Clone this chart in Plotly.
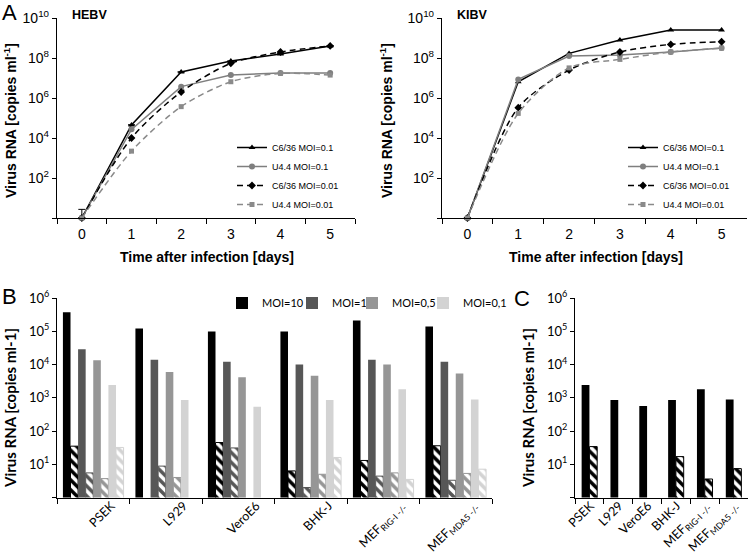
import plotly.graph_objects as go

W, H = 750, 553

# ---- panel A: growth curves (virus RNA copies/ml) ----
days = ["0", "1", "2", "3", "4", "5"]
curve_names = ["C6/36 MOI=0.1", "U4.4 MOI=0.1", "C6/36 MOI=0.01", "U4.4 MOI=0.01"]

hebv_c636_moi01 = [1, 4.5e4, 2.0e7, 7.0e7, 1.6e8, 4.0e8]
hebv_u44_moi01 = [1, 2.7e4, 3.7e6, 1.4e7, 1.8e7, 1.8e7]
hebv_c636_moi001 = [1, 1.0e4, 2.0e6, 5.4e7, 2.0e8, 4.0e8]
hebv_u44_moi001 = [1, 2.2e3, 3.7e5, 6.5e6, 1.7e7, 1.4e7]
hebv_err_up = [1.7, 0, 0, 0, 0, 0]

kibv_c636_moi01 = [1, 6.5e6, 1.7e8, 8.0e8, 2.5e9, 2.5e9]
kibv_u44_moi01 = [1, 8.5e6, 1.26e8, 1.4e8, 2.0e8, 3.2e8]
kibv_c636_moi001 = [1, 3.3e5, 2.5e7, 2.0e8, 4.8e8, 6.5e8]
kibv_u44_moi001 = [1, 1.7e5, 3.2e7, 8.5e7, 2.0e8, 3.1e8]

a_tickvals = [1, 1e2, 1e4, 1e6, 1e8, 1e10]
a_ticktext = ["", "10<sup>2</sup>", "10<sup>4</sup>", "10<sup>6</sup>",
              "10<sup>8</sup>", "10<sup>10</sup>"]

# ---- panels B and C: cell lines ----
cell_lines = ["PSEK", "L929", "VeroE6", "BHK-J",
              "MEF<sub>RIG-I -/-</sub>", "MEF<sub>MDA5 -/-</sub>"]
moi_names = ["MOI=10", "MOI=1", "MOI=0,5", "MOI=0,1"]

b_moi10 = [3.7e5, 1.2e5, 9.8e4, 9.8e4, 2.1e5, 1.4e5]
b_moi10_hatch = [35, None, 45, 6.3, 13, 36]
b_moi1 = [2.9e4, 1.4e4, 1.2e4, 1.0e4, 1.4e4, 1.2e4]
b_moi1_hatch = [5.5, 8.8, 31, 2.0, 4.4, 3.3]
b_moi05 = [1.35e4, 6.0e3, 4.1e3, 4.6e3, 1.0e4, 5.4e3]
b_moi05_hatch = [3.7, 4.0, None, 5.0, 5.5, 5.3]
b_moi01 = [2.4e3, 850, 540, 850, 1.8e3, 890]
b_moi01_hatch = [32, None, None, 16, 3.5, 7.1]

c_solid = [2.4e3, 860, 560, 860, 1.8e3, 890]
c_hatch = [34, None, None, 17, 3.6, 7.4]

bc_tickvals = [1, 1e1, 1e2, 1e3, 1e4, 1e5, 1e6]
bc_ticktext = ["", "10<sup>1</sup>", "10<sup>2</sup>", "10<sup>3</sup>",
               "10<sup>4</sup>", "10<sup>5</sup>", "10<sup>6</sup>"]

ARIAL = "Liberation Sans, Arial, sans-serif"
CALI = "Lato, Open Sans, sans-serif"


def px(x):
    return x / W


def py(y):
    return 1 - y / H


curve_colors = ["black", "#7f7f7f", "black", "#8a8a8a"]
curve_dash = ["solid", "solid", "6px,4px", "6px,4px"]
curve_symbols = ["triangle-up", "circle", "diamond", "square"]
curve_sizes = [6, 6, 6, 5]

bar_colors = ["#000000", "#575757", "#969696", "#d3d3d3"]

fig = go.Figure()


def add_curves(series, xa, ya, legend, err=None):
    for i, y in enumerate(series):
        dashed = curve_dash[i] != "solid"
        tr = go.Scatter(
            x=days, y=y, name=curve_names[i], mode="lines+markers",
            xaxis=xa, yaxis=ya, legend=legend, cliponaxis=False,
            line=dict(color=curve_colors[i], width=1.5, dash=curve_dash[i],
                      shape="spline" if dashed else "linear", smoothing=0.8),
            marker=dict(symbol=curve_symbols[i], size=curve_sizes[i],
                        color=curve_colors[i]),
        )
        if err is not None and i == 0:
            tr.error_y = dict(type="data", array=err, arrayminus=[0] * len(err),
                              symmetric=False, color="black", thickness=1, width=3.5)
        fig.add_trace(tr)


add_curves([hebv_c636_moi01, hebv_u44_moi01, hebv_c636_moi001, hebv_u44_moi001],
           "x", "y", "legend", err=hebv_err_up)
add_curves([kibv_c636_moi01, kibv_u44_moi01, kibv_c636_moi001, kibv_u44_moi001],
           "x2", "y2", "legend2")

# panel B: solid / hatched pairs per MOI, each MOI with its own legend box
b_series = [(b_moi10, b_moi10_hatch), (b_moi1, b_moi1_hatch),
            (b_moi05, b_moi05_hatch), (b_moi01, b_moi01_hatch)]
bw = 0.1046
for i, (solid, hatch) in enumerate(b_series):
    col = bar_colors[i]
    fig.add_trace(go.Bar(
        x=cell_lines, y=solid, name=moi_names[i], xaxis="x3", yaxis="y3",
        legend="legend%d" % (3 + i), width=bw, offset=-4 * bw + 2 * i * bw,
        marker=dict(color=col, line=dict(width=0)),
    ))
    fig.add_trace(go.Bar(
        x=cell_lines, y=hatch, name=moi_names[i] + " hatched", xaxis="x3",
        yaxis="y3", showlegend=False, width=bw, offset=-4 * bw + (2 * i + 1) * bw,
        marker=dict(color=col, line=dict(color=col, width=1),
                    pattern=dict(shape="\\", fillmode="replace", fgcolor=col,
                                 bgcolor="white", size=7, solidity=0.5)),
    ))

# panel C
cw = 0.27
fig.add_trace(go.Bar(
    x=cell_lines, y=c_solid, name="C solid", xaxis="x4", yaxis="y4",
    showlegend=False, width=cw, offset=-cw, marker=dict(color="black", line=dict(width=0)),
))
fig.add_trace(go.Bar(
    x=cell_lines, y=c_hatch, name="C hatched", xaxis="x4", yaxis="y4",
    showlegend=False, width=cw, offset=0,
    marker=dict(color="black", line=dict(color="black", width=1),
                pattern=dict(shape="\\", fillmode="replace", fgcolor="black",
                             bgcolor="white", size=7, solidity=0.5)),
))


# axes
def xcat(domain, anchor, font, angle=0, standoff=0, shift=0):
    return dict(domain=domain, anchor=anchor, type="category", tickson="boundaries",
                range=[-0.5, 5.5], ticks="outside", ticklen=5, tickcolor="black",
                showline=True, linecolor="black", linewidth=1.3, showgrid=False,
                zeroline=False, tickangle=angle, tickfont=font, automargin=False,
                ticklabelstandoff=standoff, ticklabelshift=shift)


def ylog(domain, anchor, rng, vals, text, font):
    return dict(domain=domain, anchor=anchor, type="log", range=rng, tickvals=vals,
                ticktext=text, ticks="outside", ticklen=4, tickcolor="black",
                showline=True, linecolor="black", linewidth=1.3, showgrid=False,
                zeroline=False, tickfont=font, automargin=False)


a_font = dict(family=ARIAL, size=14, color="black")
b_font = dict(family=CALI, size=13, color="black")
bx_font = dict(family=CALI, size=12.5, color="black")

yA = [py(218), py(18)]
yB = [py(497.5), py(298)]


def leg(x, y, font, yanchor="top"):
    return dict(x=px(x), y=py(y), xanchor="left", yanchor=yanchor, font=font,
                bgcolor="rgba(0,0,0,0)", itemwidth=30)


a_leg_font = dict(family=ARIAL, size=9, color="black")
b_leg_font = dict(family=CALI, size=11, color="black")

fig.update_layout(
    width=W, height=H, margin=dict(l=0, r=0, t=0, b=0),
    paper_bgcolor="white", plot_bgcolor="white", barmode="overlay",
    xaxis=xcat([px(57), px(355)], "y", a_font, standoff=3),
    yaxis=ylog(yA, "x", [0, 10], a_tickvals, a_ticktext, a_font),
    xaxis2=xcat([px(442), px(747)], "y2", a_font, standoff=3),
    yaxis2=ylog(yA, "x2", [0, 10], a_tickvals, a_ticktext, a_font),
    xaxis3=xcat([px(57), px(492)], "y3", bx_font, angle=-45, standoff=-5, shift=18),
    yaxis3=ylog(yB, "x3", [0, 6], bc_tickvals, bc_ticktext, b_font),
    xaxis4=xcat([px(575), px(748)], "y4", bx_font, angle=-45, standoff=-5, shift=1),
    yaxis4=ylog(yB, "x4", [0, 6], bc_tickvals, bc_ticktext, b_font),
    legend=leg(232, 133, a_leg_font),
    legend2=leg(623, 133, a_leg_font),
    legend3=leg(222, 303, b_leg_font, "middle"),
    legend4=leg(292, 303, b_leg_font, "middle"),
    legend5=leg(352, 303, b_leg_font, "middle"),
    legend6=leg(423, 303, b_leg_font, "middle"),
    showlegend=True,
)

ann = []


def label(text, x, y, font, angle=0, xanchor="center"):
    ann.append(dict(text=text, x=px(x), y=py(y), xref="paper", yref="paper",
                    showarrow=False, textangle=angle, font=font,
                    xanchor=xanchor, yanchor="middle"))


title_a = dict(family=ARIAL, size=14, color="black")
title_b = dict(family=CALI, size=15, color="black")
panel_font = dict(family=ARIAL, size=22, color="black")

label("A", 0, 13, panel_font, xanchor="left")
label("B", 0, 296, panel_font, xanchor="left")
label("C", 512, 298, panel_font, xanchor="left")
label("<b>HEBV</b>", 70, 15, dict(family=ARIAL, size=12.5, color="black"), xanchor="left")
label("<b>KIBV</b>", 455, 15, dict(family=ARIAL, size=12.5, color="black"), xanchor="left")
label("<b>Virus RNA [copies ml<sup>-1</sup>]</b>", 10, 121, title_a, angle=-90)
label("<b>Virus RNA [copies ml<sup>-1</sup>]</b>", 386, 121, title_a, angle=-90)
label("<b>Time after infection [days]</b>", 207, 257, title_a)
label("<b>Time after infection [days]</b>", 596, 257, title_a)
label("<b>Virus RNA [copies ml-1]</b>", 10, 408, title_b, angle=-90)
label("<b>Virus RNA [copies ml-1]</b>", 528, 408, title_b, angle=-90)

fig.update_layout(annotations=ann)

# the page's default 8px body margin would push the figure off the window
fig.write_html("out.html", config={"displayModeBar": False},
               post_script="document.body.style.margin='0';")
